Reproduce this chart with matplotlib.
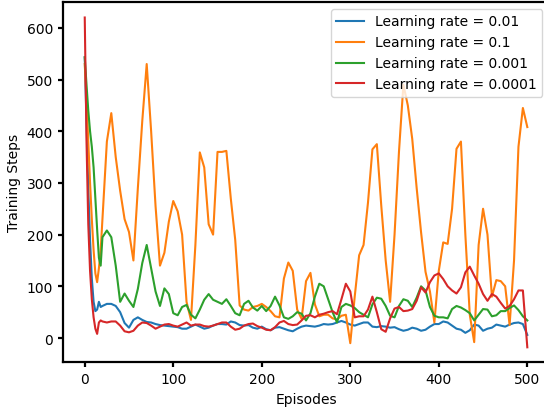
import matplotlib
matplotlib.use("Agg")
import matplotlib.pyplot as plt

# Episode grid (denser over the initial drop)
episodes = [0, 2, 4, 6, 8, 10, 12, 14, 16, 18] + list(range(20, 501, 5))

# Smoothed training steps per learning rate
lr_0_01 = [543, 420, 290, 190, 115, 70, 52, 55, 70, 60,
           62, 66, 66, 62, 50, 29, 20, 35, 40, 35,
           31, 30, 27, 25, 24, 23, 22, 21, 18, 18,
           22, 26, 22, 18, 20, 24, 27, 27, 26, 32,
           30, 25, 24, 25, 20, 18, 22, 17, 15, 20,
           21, 18, 15, 13, 18, 22, 24, 23, 22, 24,
           27, 26, 27, 30, 33, 30, 26, 24, 27, 30,
           30, 22, 21, 23, 22, 20, 21, 17, 14, 16,
           20, 18, 14, 16, 22, 27, 27, 32, 30, 24,
           18, 16, 10, 15, 26, 24, 14, 18, 20, 26,
           24, 22, 26, 29, 30, 27, 6]

lr_0_1 = [530, 460, 380, 300, 230, 170, 125, 108, 135, 170,
          230, 380, 435, 350, 285, 230, 205, 150, 290, 420,
          530, 400, 255, 140, 165, 225, 265, 245, 200, 70,
          35, 180, 359, 330, 220, 200, 360, 360, 362, 270,
          190, 63, 55, 53, 60, 62, 66, 60, 52, 42,
          40, 115, 146, 130, 55, 37, 110, 126, 65, 42,
          45, 45, 38, 36, 43, 45, -10, 80, 160, 180,
          262, 365, 375, 256, 150, 70, 200, 360, 490, 450,
          385, 290, 204, 128, 90, 30, 130, 185, 182, 250,
          366, 380, 200, 45, -8, 180, 250, 200, 80, 112,
          110, 100, 25, 150, 370, 445, 408]

lr_0_001 = [543, 490, 440, 400, 370, 330, 270, 210, 155, 140,
            195, 208, 195, 140, 70, 86, 72, 60, 95, 145,
            180, 135, 90, 62, 96, 85, 48, 44, 60, 64,
            45, 38, 55, 74, 85, 74, 70, 66, 75, 62,
            48, 44, 66, 72, 59, 53, 62, 52, 62, 80,
            63, 40, 37, 42, 50, 47, 34, 48, 80, 105,
            100, 75, 50, 30, 60, 66, 63, 58, 50, 45,
            40, 65, 78, 76, 62, 43, 40, 62, 75, 72,
            60, 78, 100, 92, 60, 43, 40, 40, 38, 56,
            62, 59, 54, 48, 34, 45, 56, 55, 42, 44,
            52, 52, 58, 63, 54, 42, 34]

lr_0_0001 = [620, 380, 220, 130, 75, 40, 18, 8, 30, 34,
             32, 30, 32, 32, 24, 13, 11, 14, 24, 30,
             29, 24, 18, 22, 26, 27, 24, 22, 26, 30,
             24, 26, 26, 23, 22, 24, 27, 30, 30, 22,
             16, 18, 24, 27, 28, 23, 20, 16, 15, 21,
             30, 33, 27, 25, 26, 34, 43, 44, 40, 45,
             47, 50, 52, 46, 75, 105, 90, 40, 42, 42,
             55, 80, 50, 17, 12, 38, 57, 60, 52, 53,
             56, 72, 98, 88, 108, 121, 125, 114, 100, 92,
             86, 98, 127, 138, 121, 105, 85, 72, 85, 80,
             68, 57, 62, 75, 92, 92, -18]

series = [
    (lr_0_01, 'Learning rate = 0.01', 'tab:blue'),
    (lr_0_1, 'Learning rate = 0.1', 'tab:orange'),
    (lr_0_001, 'Learning rate = 0.001', 'tab:green'),
    (lr_0_0001, 'Learning rate = 0.0001', 'tab:red'),
]

fig = plt.figure(figsize=(5.44, 4.10), dpi=100)
ax = fig.add_axes([0.1151, 0.1139, 0.8949, 0.8788])

for values, label, color in series:
    ax.plot(episodes, values, color=color, linewidth=1.5, label=label)

ax.set_xlim(-25, 525)
ax.set_ylim(-47, 650)
ax.set_xticks([0, 100, 200, 300, 400, 500])
ax.set_yticks([0, 100, 200, 300, 400, 500, 600])
ax.set_xlabel('Episodes')
ax.set_ylabel('Training Steps')
for s in ax.spines.values():
    s.set_linewidth(1.6)
ax.tick_params(width=1.6, length=3.5)
ax.legend(loc='upper right')

fig.savefig('out.png', dpi=100)
